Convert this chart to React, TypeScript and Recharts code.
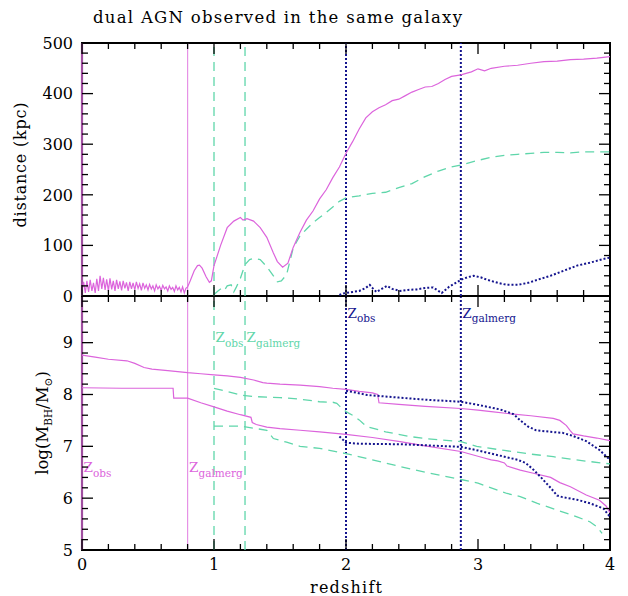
import React from 'react';
import { LineChart, Line, XAxis, YAxis, ReferenceLine, ReferenceArea } from 'recharts';

// ---------- colours / fonts ----------
const MAGENTA = '#dc64dc';
const MAGENTA_AXIS = '#a04fa0';
const GREEN = '#5fd6aa';
const BLUE = '#14148e';
const FONT = '"DejaVu Serif", serif';

// ---------- ticks ----------
const xTicks = [0, 0.2, 0.4, 0.6, 0.8, 1, 1.2, 1.4, 1.6, 1.8, 2, 2.2, 2.4, 2.6, 2.8, 3, 3.2, 3.4, 3.6, 3.8, 4];
const distTicks = [0, 20, 40, 60, 80, 100, 120, 140, 160, 180, 200, 220, 240, 260, 280, 300, 320, 340, 360, 380, 400, 420, 440, 460, 480, 500];
const massTicks = [5, 5.2, 5.4, 5.6, 5.8, 6, 6.2, 6.4, 6.6, 6.8, 7, 7.2, 7.4, 7.6, 7.8, 8, 8.2, 8.4, 8.6, 8.8, 9, 9.2, 9.4, 9.6, 9.8];

// ---------- event redshifts ----------
const zObs = [0, 1.0, 2.0];
const zGalmerg = [0.8, 1.235, 2.87];

// ---------- top panel: distance (kpc) ----------
const distMagenta: [number, number][] = [
  [0, 12], [0.012, 28], [0.025, 6], [0.037, 30], [0.05, 8], [0.062, 32], [0.075, 10], [0.087, 26], [0.1, 6],
  [0.112, 34], [0.125, 10], [0.137, 40], [0.15, 14], [0.162, 36], [0.175, 12], [0.187, 33], [0.2, 10],
  [0.212, 35], [0.225, 13], [0.237, 30], [0.25, 10], [0.262, 32], [0.275, 14], [0.287, 29], [0.3, 11],
  [0.312, 30], [0.325, 15], [0.337, 27], [0.35, 10], [0.362, 28], [0.375, 14], [0.387, 26], [0.4, 12],
  [0.412, 28], [0.425, 15], [0.437, 24], [0.45, 11], [0.462, 26], [0.475, 15], [0.487, 22], [0.5, 12],
  [0.512, 23], [0.525, 14], [0.537, 20], [0.55, 10], [0.562, 22], [0.575, 14], [0.587, 19], [0.6, 11],
  [0.612, 21], [0.625, 14], [0.637, 18], [0.65, 10], [0.662, 20], [0.675, 13], [0.687, 17], [0.7, 9],
  [0.712, 20], [0.725, 12], [0.737, 17], [0.75, 8], [0.762, 18], [0.775, 6], [0.787, 15], [0.8, 18],
  [0.82, 30], [0.85, 50], [0.875, 60], [0.89, 61], [0.91, 55], [0.94, 38], [0.965, 27], [0.98, 30],
  [1.0, 60], [1.05, 100], [1.1, 135], [1.15, 148], [1.2, 155], [1.22, 150], [1.25, 153], [1.3, 148],
  [1.35, 135], [1.4, 116], [1.45, 85], [1.48, 68], [1.52, 57], [1.56, 65], [1.6, 96], [1.65, 125],
  [1.7, 150], [1.75, 168], [1.8, 192], [1.85, 210], [1.9, 234], [1.95, 255], [2.0, 282], [2.05, 305],
  [2.1, 330], [2.15, 352], [2.2, 364], [2.25, 372], [2.3, 378], [2.35, 386], [2.4, 389], [2.45, 396],
  [2.5, 403], [2.55, 408], [2.6, 413], [2.65, 414], [2.7, 420], [2.75, 428], [2.8, 434], [2.87, 437],
  [2.95, 443], [3.0, 449], [3.05, 445], [3.1, 450], [3.2, 454], [3.3, 456], [3.4, 460], [3.5, 463],
  [3.6, 464], [3.7, 467], [3.8, 468], [3.9, 470], [4.0, 473],
];

const distGreen: [number, number][] = [
  [1.0, 3], [1.03, 10], [1.06, 16], [1.08, 12], [1.1, 20], [1.13, 22], [1.15, 8], [1.17, 18], [1.2, 35],
  [1.235, 62], [1.27, 72], [1.3, 74], [1.35, 72], [1.4, 58], [1.45, 40], [1.48, 28], [1.51, 30], [1.55, 42],
  [1.6, 95], [1.65, 118], [1.7, 132], [1.75, 145], [1.8, 155], [1.85, 165], [1.9, 176], [1.95, 187],
  [2.0, 194], [2.1, 198], [2.2, 203], [2.3, 205], [2.4, 214], [2.5, 222], [2.6, 236], [2.7, 247],
  [2.8, 255], [2.87, 259], [3.0, 268], [3.1, 274], [3.2, 278], [3.3, 280], [3.4, 282], [3.5, 284],
  [3.6, 284], [3.7, 283], [3.8, 285], [3.9, 285], [4.0, 285],
];

const distBlue: [number, number][] = [
  [1.95, 2], [1.98, 5], [2.0, 6], [2.05, 8], [2.1, 10], [2.15, 16], [2.18, 22], [2.2, 16], [2.23, 8],
  [2.27, 14], [2.31, 20], [2.35, 14], [2.41, 10], [2.47, 12], [2.535, 13], [2.6, 16], [2.66, 17],
  [2.7, 10], [2.725, 6], [2.78, 18], [2.87, 32], [2.92, 37], [2.965, 40], [3.02, 37], [3.07, 32],
  [3.15, 26], [3.22, 22], [3.3, 22], [3.38, 26], [3.45, 32], [3.55, 40], [3.65, 50], [3.75, 60],
  [3.85, 66], [3.95, 73], [4.0, 76],
];

// ---------- bottom panel: log(M_BH / M_sun) ----------
const massMagentaA: [number, number][] = [
  [0, 8.76], [0.1, 8.72], [0.2, 8.68], [0.34, 8.65], [0.4, 8.6], [0.47, 8.52], [0.53, 8.49], [0.65, 8.46],
  [0.8, 8.42], [0.9, 8.4], [1.0, 8.38], [1.1, 8.36], [1.2, 8.33], [1.3, 8.28], [1.37, 8.23], [1.4, 8.22],
  [1.5, 8.2], [1.652, 8.18], [1.8, 8.15], [1.9, 8.12], [2.0, 8.1], [2.1, 8.06], [2.2, 8.03], [2.24, 8.0],
  [2.25, 7.84], [2.4, 7.81], [2.6, 7.77], [2.87, 7.73], [3.0, 7.7], [3.1, 7.67], [3.27, 7.62], [3.4, 7.59],
  [3.57, 7.54], [3.62, 7.5], [3.67, 7.4], [3.7, 7.3], [3.72, 7.24], [3.8, 7.2], [3.9, 7.16], [4.0, 7.11],
];

const massMagentaB: [number, number][] = [
  [0, 8.13], [0.3, 8.12], [0.6, 8.12], [0.69, 8.12], [0.695, 7.93], [0.8, 7.93], [0.9, 7.84], [1.0, 7.76],
  [1.1, 7.68], [1.2, 7.61], [1.28, 7.56], [1.29, 7.46], [1.32, 7.42], [1.4, 7.37], [1.5, 7.34], [1.652, 7.31],
  [1.8, 7.28], [2.0, 7.23], [2.2, 7.17], [2.41, 7.09], [2.6, 7.01], [2.87, 6.9], [3.04, 6.78], [3.1, 6.74],
  [3.15, 6.72], [3.2, 6.68], [3.22, 6.62], [3.32, 6.54], [3.42, 6.48], [3.55, 6.4], [3.62, 6.3], [3.7, 6.22],
  [3.82, 6.06], [3.92, 5.96], [3.97, 5.85], [4.0, 5.72],
];

const massGreenA: [number, number][] = [
  [1.0, 8.12], [1.1, 8.06], [1.2, 7.99], [1.235, 7.98], [1.3, 7.96], [1.4, 7.95], [1.5, 7.94], [1.652, 7.91],
  [1.8, 7.86], [1.9, 7.85], [1.93, 7.83], [1.95, 7.78], [2.0, 7.67], [2.05, 7.6], [2.1, 7.51], [2.13, 7.44],
  [2.16, 7.38], [2.3, 7.28], [2.48, 7.19], [2.6, 7.15], [2.87, 7.09], [2.99, 7.0], [3.2, 6.92], [3.4, 6.85],
  [3.57, 6.8], [3.8, 6.72], [4.0, 6.66],
];

const massGreenB: [number, number][] = [
  [1.0, 7.39], [1.2, 7.39], [1.3, 7.35], [1.4, 7.31], [1.45, 7.15], [1.55, 7.08], [1.652, 7.0], [1.8, 6.96],
  [2.0, 6.86], [2.2, 6.74], [2.41, 6.61], [2.6, 6.5], [2.87, 6.36], [3.0, 6.29], [3.22, 6.09], [3.32, 6.03],
  [3.45, 5.9], [3.6, 5.77], [3.75, 5.64], [3.85, 5.54], [3.9, 5.45], [3.94, 5.32],
];

const massBlueA: [number, number][] = [
  [2.0, 8.07], [2.05, 8.05], [2.16, 7.99], [2.4, 7.94], [2.6, 7.9], [2.87, 7.86], [3.0, 7.8], [3.17, 7.71],
  [3.27, 7.62], [3.32, 7.5], [3.38, 7.38], [3.44, 7.31], [3.55, 7.28], [3.64, 7.26], [3.72, 7.2], [3.82, 7.1],
  [3.92, 6.93], [4.0, 6.74],
];

const massBlueB: [number, number][] = [
  [1.95, 7.19], [1.98, 7.12], [2.0, 7.07], [2.1, 7.05], [2.41, 7.04], [2.6, 7.02], [2.87, 6.99], [3.0, 6.92],
  [3.1, 6.86], [3.2, 6.8], [3.3, 6.74], [3.36, 6.68], [3.42, 6.55], [3.47, 6.42], [3.55, 6.2], [3.6, 6.05],
  [3.64, 6.02], [3.75, 5.97], [3.85, 5.9], [3.95, 5.8], [4.0, 5.64],
];

const rows = (pts: [number, number][]) => pts.map(([x, y]) => ({ x, y }));

// ---------- layout ----------
const W = 628;
const L = 82;
const R = 610;
const TOP_CHART_H = 310;
const BOT_OFFSET = 290;
const BOT_CHART_H = 306;
// plot edges in each chart's local coordinates
const T1 = 43, B1 = 296;
const T2 = 6, B2 = 260;
const DIST_DOMAIN: [number, number] = [0, 500];
const MASS_DOMAIN: [number, number] = [5, 9.9];

const isMajor = (v: number, step: number) => Math.abs(v / step - Math.round(v / step)) < 1e-6;

function makeXTick(T: number, B: number, labels: boolean) {
  return (props: any) => {
    const x = props.x;
    const v = props.payload.value;
    const major = isMajor(v, 1);
    const len = major ? 11 : 6;
    return (
      <g>
        <line x1={x} x2={x} y1={B} y2={B - len} stroke="#000" strokeWidth={1.3} />
        <line x1={x} x2={x} y1={T} y2={T + len} stroke="#000" strokeWidth={1.3} />
        {labels && major ? (
          <text x={x} y={B + 19.5} textAnchor="middle" fontFamily={FONT} fontSize={16} fill="#000">
            {Math.round(v)}
          </text>
        ) : null}
      </g>
    );
  };
}

function makeYTick(step: number) {
  return (props: any) => {
    const y = props.y;
    const v = props.payload.value;
    const major = isMajor(v, step);
    const len = major ? 11 : 6;
    return (
      <g>
        <line x1={L} x2={L + len} y1={y} y2={y} stroke="#000" strokeWidth={1.3} />
        <line x1={R} x2={R - len} y1={y} y2={y} stroke="#000" strokeWidth={1.3} />
        {major ? (
          <text x={L - 9} y={y} dy="0.36em" textAnchor="end" fontFamily={FONT} fontSize={16} fill="#000">
            {Math.round(v)}
          </text>
        ) : null}
      </g>
    );
  };
}

function zLabel(color: string, sub: string, value: number | null) {
  return (props: any) => {
    if (value === null) return null;
    const vb = props.viewBox || {};
    const [lo, hi] = MASS_DOMAIN;
    const y = vb.y + ((hi - value) / (hi - lo)) * vb.height;
    return (
      <text x={vb.x + 1.5} y={y} fill={color} fontFamily={FONT} fontSize={13.5}>
        <tspan>Z</tspan>
        <tspan fontSize={10.5} dy={4.5}>{sub}</tspan>
      </text>
    );
  };
}

// label heights (in log M units) for the bottom panel
const zObsLabelAt = [6.5, 9.01, 9.48];
const zGalLabelAt = [6.5, 9.01, 9.48];
const eventColors = [MAGENTA, GREEN, BLUE];
const eventDash = [undefined, '9 6', '2 2'];
const eventWidth = [1.2, 1.3, 2];

function eventLines(withLabels: boolean) {
  const out: React.ReactNode[] = [];
  zObs.forEach((z, i) => {
    const c = eventColors[i];
    out.push(
      <ReferenceLine
        key={`o${i}`}
        x={z}
        stroke={i === 0 ? MAGENTA_AXIS : c}
        strokeWidth={i === 0 ? 2.2 : eventWidth[i]}
        strokeDasharray={eventDash[i]}
        ifOverflow="visible"
        label={withLabels ? zLabel(c, 'obs', zObsLabelAt[i]) : undefined}
      />
    );
  });
  zGalmerg.forEach((z, i) => {
    const c = eventColors[i];
    out.push(
      <ReferenceLine
        key={`g${i}`}
        x={z}
        stroke={c}
        strokeOpacity={i === 0 ? 0.7 : 1}
        strokeWidth={eventWidth[i]}
        strokeDasharray={eventDash[i]}
        ifOverflow="visible"
        label={withLabels ? zLabel(c, 'galmerg', zGalLabelAt[i]) : undefined}
      />
    );
  });
  return out;
}

const topLabels = () => (
  <g>
    <text x={93} y={23} fontFamily={FONT} fontSize={16.5} fill="#000" textLength={369} lengthAdjust="spacing">
      dual AGN observed in the same galaxy
    </text>
    <text
      x={26}
      y={165}
      transform="rotate(-90, 26, 165)"
      textAnchor="middle"
      fontFamily={FONT}
      fontSize={16}
      fill="#000"
      textLength={125}
      lengthAdjust="spacing"
    >
      distance (kpc)
    </text>
  </g>
);

const massLabel = () => (
  <text
    x={48}
    y={133}
    transform="rotate(-90, 48, 133)"
    textAnchor="middle"
    fontFamily={FONT}
    fontSize={16.5}
    fill="#000"
  >
    <tspan>log(M</tspan>
    <tspan fontSize={10.5} dy={4}>BH</tspan>
    <tspan dy={-4}>/M</tspan>
    <tspan fontSize={10.5} dy={4}>⊙</tspan>
    <tspan dy={-4}>)</tspan>
  </text>
);

const redshiftLabel = () => (
  <text x={346} y={303} textAnchor="middle" fontFamily={FONT} fontSize={16} fill="#000" textLength={72} lengthAdjust="spacing">
    redshift
  </text>
);

export default function App() {
  return (
    <div style={{ position: 'absolute', left: 0, top: 0, width: W, height: 596, background: '#fff' }}>
      <div style={{ position: 'absolute', left: 0, top: BOT_OFFSET }}>
        <LineChart width={W} height={BOT_CHART_H} margin={{ top: T2, right: W - R, bottom: BOT_CHART_H - B2 - 30, left: L - 60 }}>
          <XAxis
            type="number"
            dataKey="x"
            domain={[0, 4]}
            ticks={xTicks}
            interval={0}
            height={30}
            axisLine={false}
            tickLine={false}
            tickSize={0}
            tickMargin={0}
            tick={makeXTick(T2, B2, true)}
            label={redshiftLabel}
            allowDataOverflow
          />
          <YAxis
            type="number"
            dataKey="y"
            domain={MASS_DOMAIN}
            ticks={massTicks}
            interval={0}
            width={60}
            axisLine={false}
            tickLine={false}
            tickSize={0}
            tickMargin={0}
            tick={makeYTick(1)}
            label={massLabel}
            allowDataOverflow
          />
          {eventLines(true)}
          <Line data={rows(massGreenA)} dataKey="y" stroke={GREEN} strokeWidth={1.3} strokeDasharray="9 6" dot={false} isAnimationActive={false} />
          <Line data={rows(massGreenB)} dataKey="y" stroke={GREEN} strokeWidth={1.3} strokeDasharray="9 6" dot={false} isAnimationActive={false} />
          <Line data={rows(massMagentaA)} dataKey="y" stroke={MAGENTA} strokeWidth={1.2} dot={false} isAnimationActive={false} />
          <Line data={rows(massMagentaB)} dataKey="y" stroke={MAGENTA} strokeWidth={1.2} dot={false} isAnimationActive={false} />
          <Line data={rows(massBlueA)} dataKey="y" stroke={BLUE} strokeWidth={2} strokeDasharray="2 2" dot={false} isAnimationActive={false} />
          <Line data={rows(massBlueB)} dataKey="y" stroke={BLUE} strokeWidth={2} strokeDasharray="2 2" dot={false} isAnimationActive={false} />
          <ReferenceArea x1={0} x2={4} y1={MASS_DOMAIN[0]} y2={MASS_DOMAIN[1]} fill="none" stroke="#000" strokeWidth={2} ifOverflow="visible" />
        </LineChart>
      </div>
      <div style={{ position: 'absolute', left: 0, top: 0, pointerEvents: 'none' }}>
        <LineChart width={W} height={TOP_CHART_H} margin={{ top: T1, right: W - R, bottom: TOP_CHART_H - B1 - 1, left: L - 60 }}>
          <XAxis
            type="number"
            dataKey="x"
            domain={[0, 4]}
            ticks={xTicks}
            interval={0}
            height={1}
            axisLine={false}
            tickLine={false}
            tickSize={0}
            tickMargin={0}
            tick={makeXTick(T1, B1, false)}
            allowDataOverflow
          />
          <YAxis
            type="number"
            dataKey="y"
            domain={DIST_DOMAIN}
            ticks={distTicks}
            interval={0}
            width={60}
            axisLine={false}
            tickLine={false}
            tickSize={0}
            tickMargin={0}
            tick={makeYTick(100)}
            label={topLabels}
            allowDataOverflow
          />
          {eventLines(false)}
          <Line data={rows(distGreen)} dataKey="y" stroke={GREEN} strokeWidth={1.3} strokeDasharray="9 6" dot={false} isAnimationActive={false} />
          <Line data={rows(distBlue)} dataKey="y" stroke={BLUE} strokeWidth={2} strokeDasharray="2 2" dot={false} isAnimationActive={false} />
          <Line data={rows(distMagenta)} dataKey="y" stroke={MAGENTA} strokeWidth={1.2} dot={false} isAnimationActive={false} />
          <ReferenceArea x1={0} x2={4} y1={DIST_DOMAIN[0]} y2={DIST_DOMAIN[1]} fill="none" stroke="#000" strokeWidth={2} ifOverflow="visible" />
        </LineChart>
      </div>
    </div>
  );
}
